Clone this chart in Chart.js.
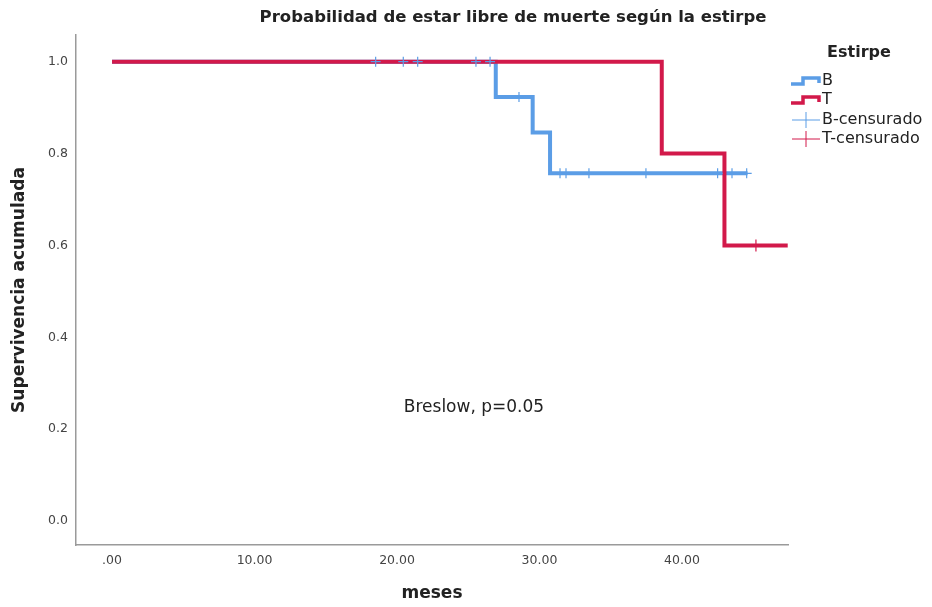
<!DOCTYPE html>
<html>
<head>
<meta charset="utf-8">
<script src="https://cdn.jsdelivr.net/npm/chart.js@4.4.0/dist/chart.umd.min.js"></script>
<style>
  body { margin: 0; background: #fff; }
  #wrap { width: 932px; height: 607px; position: relative; }
</style>
</head>
<body>
<div id="wrap"><canvas id="km"></canvas></div>
<script>
// Kaplan-Meier data
const groups = ['B', 'T'];

// B: event times and survival (horizontal then drop)
const bTimes = [0, 26.93, 29.52, 30.74, 44.6];
const bSurv = [1.0, 0.923, 0.846, 0.757, 0.757];
const bCensTimes = [18.5, 20.44, 21.45, 25.54, 26.53, 28.56, 31.44, 31.86, 33.47, 37.47, 42.5, 43.51, 44.54];
const bCensSurv = [1.0, 1.0, 1.0, 1.0, 1.0, 0.923, 0.757, 0.757, 0.757, 0.757, 0.757, 0.757, 0.757];

// T
const tTimes = [0, 38.58, 42.98, 47.42];
const tSurv = [1.0, 0.80, 0.60, 0.60];
const tCensTimes = [45.19];
const tCensSurv = [0.60];

const xTicks = [0, 10, 20, 30, 40];
const yTicks = [0, 0.2, 0.4, 0.6, 0.8, 1.0];

const blue = '#5b9de6';
const red = '#d2194a';
const FONT = "'DejaVu Sans', sans-serif";

function toPoints(xs, ys) {
    return xs.map((x, i) => ({ x: x, y: ys[i] }));
}

// Title, annotation and legend drawn on top
const extras = {
    id: 'extras',
    afterDraw: function(chart) {
        const ctx = chart.ctx;
        const xs = chart.scales.x;
        const ys = chart.scales.y;
        ctx.save();
        ctx.textBaseline = 'middle';

        ctx.fillStyle = '#222';
        ctx.textAlign = 'center';
        ctx.font = 'bold 16.5px ' + FONT;
        ctx.fillText('Probabilidad de estar libre de muerte según la estirpe', 513, 18);

        ctx.font = '17px ' + FONT;
        ctx.fillText('Breslow, p=0.05', xs.getPixelForValue(25.4), ys.getPixelForValue(0.247));

        // legend
        ctx.font = 'bold 16px ' + FONT;
        ctx.fillText('Estirpe', 859, 53);

        ctx.textAlign = 'left';
        ctx.font = '16px ' + FONT;
        const rows = [
            { label: groups[0], color: blue, step: true, y: 81 },
            { label: groups[1], color: red, step: true, y: 100 },
            { label: groups[0] + '-censurado', color: blue, step: false, y: 120 },
            { label: groups[1] + '-censurado', color: red, step: false, y: 139 }
        ];
        rows.forEach(function(r) {
            ctx.strokeStyle = r.color;
            ctx.beginPath();
            if (r.step) {
                ctx.lineWidth = 3.5;
                ctx.moveTo(791, r.y + 3);
                ctx.lineTo(803, r.y + 3);
                ctx.lineTo(803, r.y - 3);
                ctx.lineTo(819, r.y - 3);
                ctx.lineTo(819, r.y + 2);
            } else {
                ctx.lineWidth = 1;
                ctx.moveTo(792, r.y);
                ctx.lineTo(820, r.y);
                ctx.moveTo(806, r.y - 8);
                ctx.lineTo(806, r.y + 8);
            }
            ctx.stroke();
            ctx.fillStyle = '#222';
            ctx.fillText(r.label, 822, r.y);
        });
        ctx.restore();
    }
};

new Chart(document.getElementById('km'), {
    data: {
        datasets: [
            {
                type: 'line', label: groups[0], data: toPoints(bTimes, bSurv),
                stepped: 'before', borderColor: blue, borderWidth: 4, pointRadius: 0,
                fill: false, order: 4
            },
            {
                type: 'line', label: groups[1], data: toPoints(tTimes, tSurv),
                stepped: 'before', borderColor: red, borderWidth: 4, pointRadius: 0,
                fill: false, order: 3
            },
            {
                type: 'scatter', label: groups[0] + '-censurado', data: toPoints(bCensTimes, bCensSurv),
                pointStyle: 'cross', pointRadius: 5, borderColor: blue, borderWidth: 1.2, order: 2
            },
            {
                type: 'scatter', label: groups[1] + '-censurado', data: toPoints(tCensTimes, tCensSurv),
                pointStyle: 'cross', pointRadius: 6, borderColor: red, borderWidth: 1.2, order: 1
            }
        ]
    },
    options: {
        responsive: true,
        maintainAspectRatio: false,
        animation: false,
        layout: { padding: { top: 35, right: 144, left: 0, bottom: 0 } },
        plugins: {
            legend: { display: false },
            tooltip: { enabled: false },
            title: { display: false }
        },
        scales: {
            x: {
                type: 'linear',
                min: -2.53,
                max: 47.44,
                grid: { display: false, drawTicks: false },
                border: { display: true, color: '#9a9a9a', width: 1.5 },
                afterBuildTicks: function(scale) {
                    scale.ticks = xTicks.map(v => ({ value: v }));
                },
                afterFit: function(scale) { scale.height = 62; },
                ticks: {
                    padding: 8,
                    color: '#444',
                    font: { family: FONT, size: 12.5 },
                    callback: function(v) { return v === 0 ? '.00' : v.toFixed(2); }
                },
                title: {
                    display: true, text: 'meses', color: '#222',
                    font: { family: FONT, size: 17, weight: 'bold' },
                    padding: { top: 4, bottom: 3 }
                }
            },
            y: {
                type: 'linear',
                min: -0.052,
                max: 1.058,
                grid: { display: false, drawTicks: false },
                border: { display: true, color: '#9a9a9a', width: 1.5 },
                afterBuildTicks: function(scale) {
                    scale.ticks = yTicks.map(v => ({ value: v }));
                },
                afterFit: function(scale) { scale.width = 76; },
                ticks: {
                    padding: 8,
                    color: '#444',
                    font: { family: FONT, size: 12.5 },
                    callback: function(v) { return v.toFixed(1); }
                },
                title: {
                    display: true, text: 'Supervivencia acumulada', color: '#222',
                    font: { family: FONT, size: 17, weight: 'bold' },
                    padding: { top: 9, bottom: 4 }
                }
            }
        }
    },
    plugins: [extras]
});
</script>
</body>
</html>
